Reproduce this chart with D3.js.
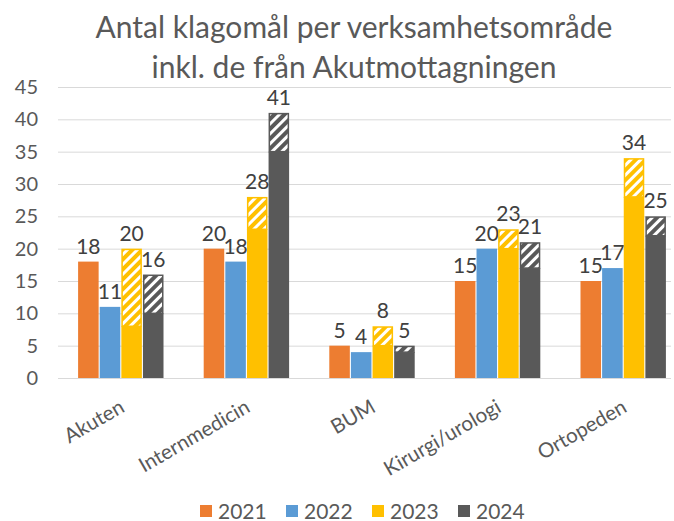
<!DOCTYPE html>
<html>
<head>
<meta charset="utf-8">
<script src="https://cdn.jsdelivr.net/npm/d3@7"></script>
<style>
  body { margin: 0; background: #fff; }
  text { font-family: Lato, "Open Sans", sans-serif; }
</style>
</head>
<body>
<svg></svg>
<script>
var width = 674,
    height = 521,
    plotLeft = 58,
    plotRight = 686,
    gridRight = 671,
    svg,
    g;

// Klagomål per verksamhetsområde; for 2023/2024 the count is split into
// own (base) and the ones from Akutmottagningen (akut)
var categories = ['Akuten', 'Internmedicin', 'BUM', 'Kirurgi/urologi', 'Ortopeden'];
var years = ['2021', '2022', '2023', '2024'];

var data = [
    { cat: 'Akuten',          '2021': [18, 0], '2022': [11, 0], '2023': [8, 12],  '2024': [10, 6] },
    { cat: 'Internmedicin',   '2021': [20, 0], '2022': [18, 0], '2023': [23, 5],  '2024': [35, 6] },
    { cat: 'BUM',             '2021': [5, 0],  '2022': [4, 0],  '2023': [5, 3],   '2024': [4, 1] },
    { cat: 'Kirurgi/urologi', '2021': [15, 0], '2022': [20, 0], '2023': [20, 3],  '2024': [17, 4] },
    { cat: 'Ortopeden',       '2021': [15, 0], '2022': [17, 0], '2023': [28, 6],  '2024': [22, 3] }
];

// Define color scale
var color = d3.scaleOrdinal()
    .domain(years)
    .range(['#ED7D31', '#5B9BD5', '#FFC000', '#595959']);

var x0 = d3.scaleBand()
    .domain(categories)
    .range([plotLeft, plotRight])
    .paddingInner(0.32)
    .paddingOuter(0.16);

var x1 = d3.scaleBand()
    .domain(years)
    .range([0, x0.bandwidth()])
    .paddingInner(0.05);

var y = d3.scaleLinear()
    .domain([0, 45])
    .range([378, 87]);

function initChart() {
    svg = d3.select('svg')
        .attr('width', width)
        .attr('height', height);

    // hatch patterns, one per year colour
    var defs = svg.append('defs');
    years.forEach(function (yr) {
        var p = defs.append('pattern')
            .attr('id', 'hatch' + yr)
            .attr('patternUnits', 'userSpaceOnUse')
            .attr('width', 7)
            .attr('height', 7)
            .attr('patternTransform', 'rotate(45)');
        p.append('rect')
            .attr('width', 7)
            .attr('height', 7)
            .style('fill', color(yr));
        p.append('rect')
            .attr('width', 3)
            .attr('height', 7)
            .style('fill', 'white');
    });

    // title
    var title = svg.append('text')
        .attr('text-anchor', 'middle')
        .style('font-size', '30px')
        .style('fill', '#595959');
    title.append('tspan').attr('x', 354).attr('y', 38).text('Antal klagomål per verksamhetsområde');
    title.append('tspan').attr('x', 354).attr('y', 78).text('inkl. de från Akutmottagningen');

    // y grid + labels
    var yAxis = svg.append('g')
        .attr('transform', 'translate(' + plotLeft + ',0)')
        .call(d3.axisLeft(y).tickValues(d3.range(0, 46, 5)).tickSize(-(gridRight - plotLeft)).tickPadding(20));
    yAxis.select('.domain').remove();
    yAxis.selectAll('line').style('stroke', '#D9D9D9').style('stroke-width', 1);
    yAxis.selectAll('text')
        .style('font-size', '20px')
        .style('fill', '#595959')
        .attr('font-family', 'Lato, sans-serif');

    g = svg.append('g');

    var groups = g.selectAll('.cat')
        .data(data)
        .enter().append('g')
        .attr('class', 'cat')
        .attr('transform', function (d) { return 'translate(' + x0(d.cat) + ',0)'; });

    years.forEach(function (yr) {
        // base part
        groups.append('rect')
            .attr('x', x1(yr))
            .attr('width', x1.bandwidth())
            .attr('y', function (d) { return y(d[yr][0]); })
            .attr('height', function (d) { return y(0) - y(d[yr][0]); })
            .style('fill', color(yr));

        // part from Akutmottagningen (hatched)
        groups.filter(function (d) { return d[yr][1] > 0; })
            .append('rect')
            .attr('x', x1(yr) + 0.75)
            .attr('width', x1.bandwidth() - 1.5)
            .attr('y', function (d) { return y(d[yr][0] + d[yr][1]) + 0.75; })
            .attr('height', function (d) { return y(d[yr][0]) - y(d[yr][0] + d[yr][1]) - 0.75; })
            .style('fill', 'url(#hatch' + yr + ')')
            .style('stroke', color(yr))
            .style('stroke-width', 1.5);

        // total label
        groups.append('text')
            .attr('x', x1(yr) + x1.bandwidth() / 2)
            .attr('y', function (d) { return y(d[yr][0] + d[yr][1]) - 8; })
            .attr('text-anchor', 'middle')
            .style('font-size', '21px')
            .style('fill', '#404040')
            .text(function (d) { return d[yr][0] + d[yr][1]; });
    });

    // category labels, rotated
    svg.selectAll('.xlabel')
        .data(categories)
        .enter().append('text')
        .attr('class', 'xlabel')
        .attr('text-anchor', 'end')
        .attr('transform', function (d) {
            return 'translate(' + (x0(d) + x0.bandwidth() / 2 + 5) + ',411)rotate(-30)';
        })
        .style('font-size', '20.5px')
        .style('fill', '#595959')
        .text(function (d) { return d; });

    // legend
    var legend = svg.append('g')
        .selectAll('g')
        .data(years)
        .enter().append('g')
        .attr('transform', function (d, i) { return 'translate(' + (200 + i * 86) + ',505)'; });
    legend.append('rect')
        .attr('width', 12)
        .attr('height', 12)
        .style('fill', function (d) { return color(d); });
    legend.append('text')
        .attr('x', 18)
        .attr('y', 13.5)
        .style('font-size', '21px')
        .style('fill', '#595959')
        .text(function (d) { return d; });
}

initChart();
</script>
</body>
</html>
